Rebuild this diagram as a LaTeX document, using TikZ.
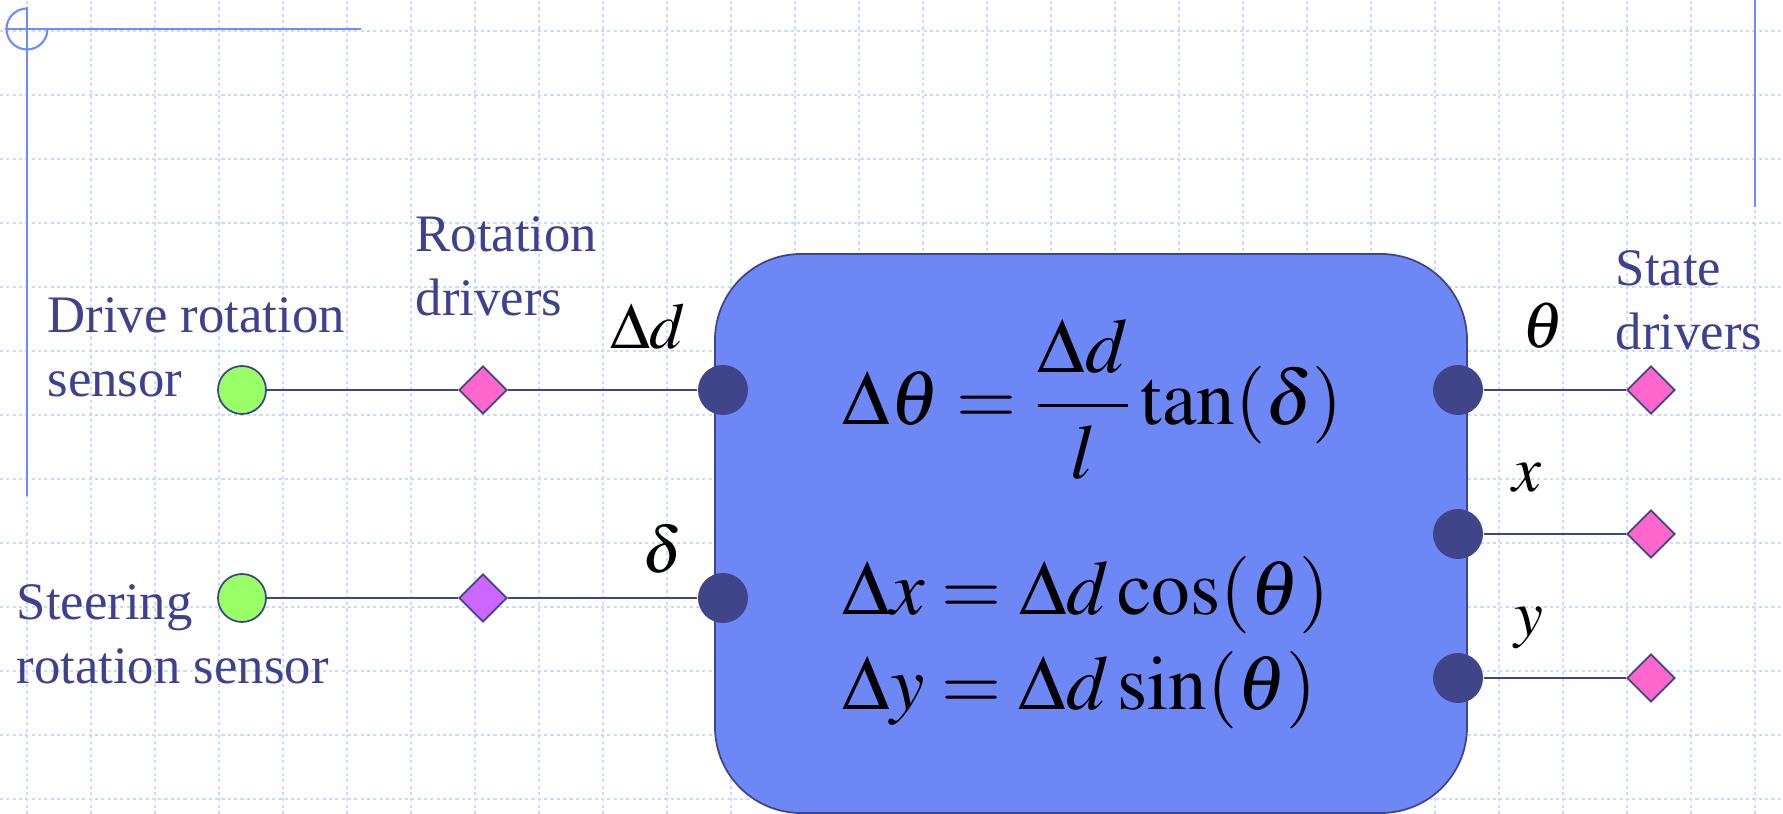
\documentclass[tikz,border=0pt]{standalone}
\usepackage{mathptmx}
\usepackage[no-math]{fontspec}
\setmainfont{Liberation Serif}
\usepackage{tikz}
\usetikzlibrary{shapes.geometric,positioning}
\definecolor{gridblue}{RGB}{205, 218, 255}
\definecolor{decoblue}{RGB}{110, 140, 255}
\definecolor{lblblue}{RGB}{64, 64, 144}
\definecolor{navy}{RGB}{64, 68, 136}
\definecolor{blkfill}{RGB}{109, 136, 245}
\definecolor{sensgreen}{RGB}{153, 255, 102}
\definecolor{drvpink}{RGB}{255, 102, 204}
\definecolor{drvviolet}{RGB}{204, 102, 255}

\begin{document}
\begin{tikzpicture}[
  gridline/.style={gridblue, line width=0.6pt, dash pattern=on 0.9pt off 0.9pt},
  deco/.style={decoblue, line width=0.6pt},
  sensor/.style={circle, draw=navy, line width=0.5pt, fill=sensgreen, minimum size=0.48cm, inner sep=0pt},
  drv/.style={diamond, draw=navy, line width=0.5pt, fill=drvpink, minimum size=0.48cm, inner sep=0pt},
  port/.style={circle, fill=navy, minimum size=0.5cm, inner sep=0pt},
  blk/.style={draw=navy, line width=0.5pt, fill=blkfill, rounded corners=0.86cm, minimum width=7.52cm, minimum height=5.59cm},
  lbl/.style={text=lblblue, align=left, inner sep=0pt, font=\fontsize{15}{18.2}\selectfont},
  var/.style={inner sep=0pt, font=\fontsize{18.5}{22}\selectfont},
  eqn/.style={inner sep=0pt, font=\fontsize{22}{26}\selectfont},
  wire/.style={navy, line width=0.6pt}
]
\useasboundingbox (0,0) rectangle (17.83,8.14);
% grid
\foreach \gx in {0.27,0.91,...,17.6} {\draw[gridline] (\gx,0) -- (\gx,8.14);}
\foreach \gy in {7.83,7.19,...,0.1} {\draw[gridline] (0,\gy) -- (17.83,\gy);}
% page marks
\draw[deco] (0.05,7.85) -- (3.61,7.85);
\draw[deco] (0.27,8.07) -- (0.27,3.18);
\draw[deco] (0.27,8.055) arc[start angle=90, end angle=360, radius=0.205];
\draw[deco] (17.55,8.14) -- (17.55,6.07);
% model block
\node[blk] (blk) at (10.91,2.805) {};
\node[eqn, anchor=base west] (eq1) at (8.42,3.89) {$\displaystyle\Delta\theta = \frac{\Delta d}{l}\tan(\delta)$};
\node[eqn, anchor=base west] (eq2) at (8.42,1.99) {$\Delta x = \Delta d\cos(\theta)$};
\node[eqn, anchor=base west] (eq3) at (8.42,1.04) {$\Delta y = \Delta d\sin(\theta)$};
% inputs
\node[sensor] (ds) at (2.42,4.24) {};
\node[sensor] (ss) at (2.42,2.16) {};
\node[drv] (rd1) at (4.83,4.24) {};
\node[drv, fill=drvviolet] (rd2) at (4.83,2.16) {};
\node[port] (in1) at (7.23,4.24) {};
\node[port] (in2) at (7.23,2.16) {};
% outputs
\node[port] (out1) at (14.58,4.24) {};
\node[port] (out2) at (14.58,2.80) {};
\node[port] (out3) at (14.58,1.36) {};
\node[drv] (sd1) at (16.51,4.24) {};
\node[drv] (sd2) at (16.51,2.80) {};
\node[drv] (sd3) at (16.51,1.36) {};
% labels
\node[lbl, anchor=west] (dlbl) at (0.47,4.67) {Drive rotation\\sensor};
\node[lbl, anchor=west] (slbl) at (0.16,1.80) {Steering\\rotation sensor};
\node[lbl, anchor=west] (rlbl) at (4.15,5.48) {Rotation\\drivers};
\node[lbl, anchor=west] (stlbl) at (16.15,5.14) {State\\drivers};
\node[var] (vdd) at (6.48,4.88) {$\Delta d$};
\node[var] (vdl) at (6.63,2.65) {$\delta$};
\node[var] (vth) at (15.43,4.88) {$\theta$};
\node[var] (vx) at (15.27,3.36) {$x$};
\node[var] (vy) at (15.29,1.86) {$y$};
% wires
\draw[wire] (ds) -- (rd1) -- (in1);
\draw[wire] (ss) -- (rd2) -- (in2);
\foreach \i in {1,2,3} {\draw[wire] (out\i) -- (sd\i);}
\end{tikzpicture}
\end{document}
